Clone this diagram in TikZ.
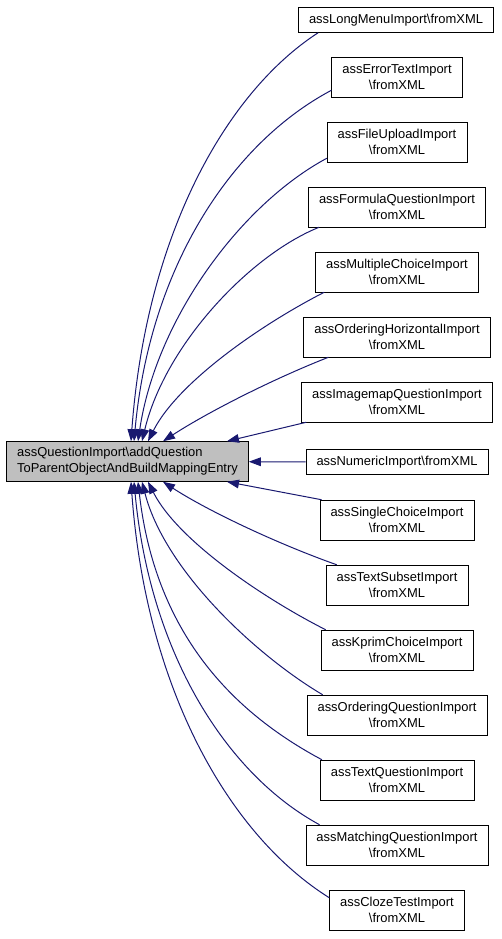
\documentclass[tikz,border=0pt]{standalone}
\usepackage{fontspec}
\setmainfont{Liberation Sans}
\usetikzlibrary{shapes,arrows.meta,calc}
\definecolor{edgeblue}{HTML}{191970}
\definecolor{mainfill}{HTML}{BFBFBF}
\begin{document}
\begin{tikzpicture}[x=0.75pt, y=-0.75pt]
	\tikzstyle{block} = [rectangle, draw, fill=white, align=center,
	font=\fontsize{9.7}{12}\selectfont, inner xsep=8pt, inner ysep=1pt, minimum height=30pt]
	\tikzstyle{single} = [block, minimum height=18.75pt]
	\tikzstyle{line} = [draw, edgeblue, line width=0.75pt, -{Triangle[length=9pt,width=6.5pt]}]
	\useasboundingbox (0,0) rectangle (501,939);
	% Place nodes
	\node [block, fill=mainfill, align=left] (main) at (127.5,461.5) {assQuestionImport\textbackslash addQuestion\\ToParentObjectAndBuildMappingEntry};
	\node [single] (lm) at (396,20) {assLongMenuImport\textbackslash fromXML};
	\node [block] (et) at (397,77) {assErrorTextImport\\\textbackslash fromXML};
	\node [block] (fu) at (397,142) {assFileUploadImport\\\textbackslash fromXML};
	\node [block] (fq) at (397,207) {assFormulaQuestionImport\\\textbackslash fromXML};
	\node [block] (mc) at (397,272) {assMultipleChoiceImport\\\textbackslash fromXML};
	\node [block] (oh) at (397,337) {assOrderingHorizontalImport\\\textbackslash fromXML};
	\node [block] (im) at (397,402) {assImagemapQuestionImport\\\textbackslash fromXML};
	\node [single] (nu) at (397,462) {assNumericImport\textbackslash fromXML};
	\node [block] (sc) at (397,520) {assSingleChoiceImport\\\textbackslash fromXML};
	\node [block] (ts) at (397,585) {assTextSubsetImport\\\textbackslash fromXML};
	\node [block] (kp) at (397,650) {assKprimChoiceImport\\\textbackslash fromXML};
	\node [block] (oq) at (397,715) {assOrderingQuestionImport\\\textbackslash fromXML};
	\node [block] (tq) at (397,780) {assTextQuestionImport\\\textbackslash fromXML};
	\node [block] (mq) at (397,845) {assMatchingQuestionImport\\\textbackslash fromXML};
	\node [block] (cz) at (397,910) {assClozeTestImport\\\textbackslash fromXML};
	% Draw edges
	\path [line] ($(lm.south west)+(20,0)$) .. controls (224.5,93.5) and (146,237) .. ($(main.north)+(3.5,0)$);
	\path [line] ($(et.south west)+(0,-7)$) .. controls (232,143) and (150,266) .. ($(main.north)+(6.5,0)$);
	\path [line] ($(fu.south west)+(0,-4)$) .. controls (240,205) and (156,320) .. ($(main.north)+(10.5,0)$);
	\path [line] ($(fq.south west)+(11,0)$) .. controls (250,255) and (165,345) .. ($(main.north)+(14.5,0)$);
	\path [line] ($(mc.south west)+(9,0)$) .. controls (262,324) and (178,382) .. ($(main.north)+(20.5,0)$);
	\path [line] ($(oh.south west)+(25,0)$) .. controls (273,379) and (208,412) .. ($(main.north)+(35.5,0)$);
	\path [line] ($(im.south west)+(5,0)$) -- ($(main.north)+(99.5,0)$);
	\path [line] (nu) -- (main);
	\path [line] ($(sc.north west)+(2,0)$) -- ($(main.south)+(99.5,0)$);
	\path [line] ($(ts.north west)+(11,0)$) .. controls (278,544) and (208,511) .. ($(main.south)+(35.5,0)$);
	\path [line] ($(kp.north west)+(5,0)$) .. controls (265,599) and (178,541) .. ($(main.south)+(20.5,0)$);
	\path [line] ($(oq.north west)+(16,0)$) .. controls (257,656) and (165,571) .. ($(main.south)+(14.5,0)$);
	\path [line] ($(tq.north west)+(2,0)$) .. controls (240,716) and (156,640) .. ($(main.south)+(10.5,0)$);
	\path [line] ($(mq.north west)+(14,0)$) .. controls (226,774) and (150,653) .. ($(main.south)+(6.5,0)$);
	\path [line] ($(cz.north west)+(0,8)$) .. controls (229,835) and (146,689) .. ($(main.south)+(3.5,0)$);
\end{tikzpicture}
\end{document}
